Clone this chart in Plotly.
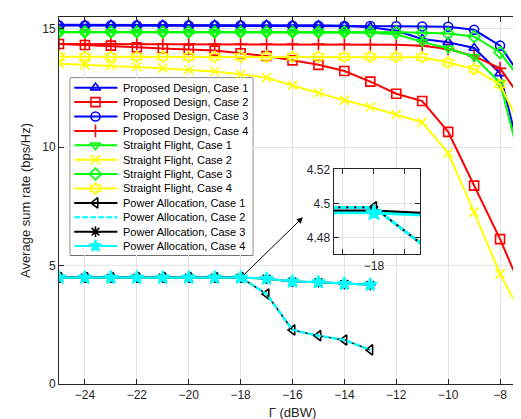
import plotly.graph_objects as go

# ---------------- data ----------------
gamma = [-25, -24, -23, -22, -21, -20, -19, -18, -17, -16, -15, -14, -13, -12, -11, -10, -9, -8, -7]
gamma_pa = [-25, -24, -23, -22, -21, -20, -19, -18, -17, -16, -15, -14, -13]

pd_case1 = [15.17, 15.17, 15.17, 15.17, 15.17, 15.17, 15.17, 15.17, 15.17, 15.16, 15.15, 15.13, 15.07, 14.92, 14.57, 14.43, 14.19, 13.12, 8.62]
pd_case2 = [14.36, 14.32, 14.29, 14.22, 14.17, 14.13, 14.08, 13.97, 13.85, 13.67, 13.48, 13.22, 12.77, 12.26, 11.95, 10.65, 8.38, 6.12, 3.57]
pd_case3 = [15.14, 15.14, 15.14, 15.14, 15.14, 15.14, 15.14, 15.14, 15.14, 15.13, 15.13, 15.12, 15.12, 15.11, 15.10, 15.09, 14.96, 14.29, 12.67]
pd_case4 = [14.36, 14.36, 14.36, 14.36, 14.36, 14.36, 14.36, 14.36, 14.36, 14.36, 14.36, 14.35, 14.34, 14.33, 14.29, 14.15, 13.85, 13.33, 11.77]

sf_case1 = [14.86, 14.86, 14.86, 14.86, 14.86, 14.86, 14.86, 14.86, 14.86, 14.86, 14.86, 14.86, 14.84, 14.77, 14.45, 14.17, 13.82, 12.72, 8.42]
sf_case2 = [13.53, 13.48, 13.45, 13.40, 13.34, 13.26, 13.20, 13.08, 12.94, 12.61, 12.29, 11.98, 11.70, 11.39, 11.05, 9.75, 7.26, 4.65, 2.58]
sf_case3 = [14.87, 14.87, 14.87, 14.87, 14.87, 14.87, 14.87, 14.87, 14.87, 14.87, 14.87, 14.87, 14.87, 14.86, 14.83, 14.80, 14.68, 14.00, 12.56]
sf_case4 = [13.82, 13.82, 13.82, 13.82, 13.82, 13.82, 13.82, 13.82, 13.82, 13.82, 13.82, 13.82, 13.82, 13.82, 13.80, 13.58, 13.30, 12.65, 10.40]

pa_case1 = [4.4976, 4.4976, 4.4976, 4.4976, 4.4976, 4.4976, 4.4976, 4.4976, 3.80, 2.28, 2.04, 1.86, 1.44]
pa_case2 = [4.4976, 4.4976, 4.4976, 4.4976, 4.4976, 4.4976, 4.4976, 4.4976, 3.80, 2.28, 2.04, 1.86, 1.44]
pa_case3 = [4.4957, 4.4957, 4.4957, 4.4957, 4.4957, 4.4957, 4.4957, 4.4957, 4.45, 4.33, 4.30, 4.23, 4.19]
pa_case4 = [4.4944, 4.4944, 4.4944, 4.4944, 4.4944, 4.4944, 4.4944, 4.4944, 4.45, 4.33, 4.30, 4.23, 4.19]

x_ticks = [-24, -22, -20, -18, -16, -14, -12, -10, -8]
y_ticks = [0, 5, 10, 15]
inset_x_ticks = [-18.02, -18, -17.98]
inset_x_labels = ["", "\u221218", ""]
inset_y_ticks = [4.48, 4.5, 4.52]
inset_y_labels = ["4.48", "4.5", "4.52"]

# ---------------- styling ----------------
FONT = "Liberation Sans, Arial, sans-serif"
AX = "#262626"
GRID = "#e3e3e3"
DASH = "6px,2px"

# name, x, y, colour, marker, dash, line width
series = [
    ("Proposed Design, Case 1", gamma, pd_case1, "#0000ff", "triangle-up-open", "solid", 2),
    ("Proposed Design, Case 2", gamma, pd_case2, "#ff0000", "square-open", "solid", 2),
    ("Proposed Design, Case 3", gamma, pd_case3, "#0000ff", "circle-open", "solid", 2),
    ("Proposed Design, Case 4", gamma, pd_case4, "#ff0000", "cross-thin-open", "solid", 2),
    ("Straight Flight, Case 1", gamma, sf_case1, "#00ff00", "triangle-down-open", "solid", 2),
    ("Straight Flight, Case 2", gamma, sf_case2, "#ffff00", "x-thin-open", "solid", 2),
    ("Straight Flight, Case 3", gamma, sf_case3, "#00ff00", "diamond-open", "solid", 2),
    ("Straight Flight, Case 4", gamma, sf_case4, "#ffff00", "hexagram-open", "solid", 2),
    ("Power Allocation, Case 1", gamma_pa, pa_case1, "#000000", "triangle-left-open", "solid", 1.6),
    ("Power Allocation, Case 2", gamma_pa, pa_case2, "#00ffff", None, DASH, 2.4),
    ("Power Allocation, Case 3", gamma_pa, pa_case3, "#000000", "asterisk-open", "solid", 2),
    ("Power Allocation, Case 4", gamma_pa, pa_case4, "#00ffff", "star", "solid", 2.2),
]

def mk(sym, col, size):
    return dict(symbol=sym, size=size, color=col, line=dict(color=col, width=1.6))

fig = go.Figure()

# main traces
for name, xs, ys, col, sym, dash, lw in series:
    fig.add_trace(go.Scatter(
        x=xs, y=ys, name=name, mode="lines+markers" if sym else "lines",
        line=dict(color=col, width=lw, dash=dash),
        marker=mk(sym, col, 10 if sym == "star" else 9) if sym else None,
        xaxis="x", yaxis="y", showlegend=False,
    ))

# inset traces (power allocation, zoomed around -18 dBW)
for name, xs, ys, col, sym, dash, lw in series[8:]:
    fig.add_trace(go.Scatter(
        x=xs, y=ys, name=name, mode="lines+markers" if sym else "lines",
        line=dict(color=col, width=lw + 0.6, dash=dash),
        marker=mk(sym, col, 12 if sym == "star" else 10) if sym else None,
        xaxis="x2", yaxis="y2", showlegend=False,
    ))

# hand-built legend (compact rows like the original), drawn on its own axes
LEG_X0, LEG_XM, LEG_X1, LEG_XT = 4, 25.3, 47.3, 50.7
annotations = []
for i, (name, xs, ys, col, sym, dash, lw) in enumerate(series):
    fig.add_trace(go.Scatter(
        x=[LEG_X0, LEG_X1], y=[i, i], mode="lines",
        line=dict(color=col, width=2, dash=dash),
        xaxis="x3", yaxis="y3", showlegend=False, hoverinfo="skip",
    ))
    if sym:
        fig.add_trace(go.Scatter(
            x=[LEG_XM], y=[i], mode="markers", marker=mk(sym, col, 9),
            xaxis="x3", yaxis="y3", showlegend=False, hoverinfo="skip",
        ))
    annotations.append(dict(
        x=LEG_XT, y=i, xref="x3", yref="y3", text=name, showarrow=False,
        xanchor="left", yanchor="middle",
        font=dict(family=FONT, size=11, color="#000000"),
    ))

annotations.append(dict(
    x=-15.6, y=7.04, ax=-17.91, ay=4.57,
    xref="x", yref="y", axref="x", ayref="y",
    showarrow=True, arrowhead=2, arrowsize=1.2, arrowwidth=1,
    arrowcolor="#000000", text="",
))

axis_common = dict(
    showline=True, linecolor=AX, linewidth=1, mirror="ticks",
    ticks="inside", ticklen=5, tickcolor=AX, tickwidth=1,
    showgrid=True, gridcolor=GRID, gridwidth=1, zeroline=False,
    tickfont=dict(family=FONT, size=12, color=AX),
)
hidden = dict(visible=False, showgrid=False, zeroline=False, fixedrange=True)

fig.update_layout(
    width=521, height=419,
    margin=dict(l=51, r=2, t=5, b=43),
    paper_bgcolor="white", plot_bgcolor="white",
    font=dict(family=FONT, size=12, color=AX),
    showlegend=False,
    xaxis=dict(
        domain=[0, 1], range=[-25, -7], tickvals=x_ticks,
        title=dict(text="\u0393 (dBW)", font=dict(family=FONT, size=13, color=AX), standoff=6),
        **axis_common,
    ),
    yaxis=dict(
        domain=[0, 1], range=[0, 15.5], tickvals=y_ticks,
        title=dict(text="Average sum rate (bps/Hz)", font=dict(family=FONT, size=13, color=AX), standoff=8),
        **axis_common,
    ),
    xaxis2=dict(
        domain=[0.588, 0.774], anchor="y2", range=[-18.026, -17.970],
        tickvals=inset_x_ticks, ticktext=inset_x_labels,
        **axis_common,
    ),
    yaxis2=dict(
        domain=[0.353, 0.585], anchor="x2", range=[4.47, 4.52],
        tickvals=inset_y_ticks, ticktext=inset_y_labels,
        **axis_common,
    ),
    xaxis3=dict(domain=[0.0241, 0.4149], anchor="y3", range=[0, 183], **hidden),
    yaxis3=dict(domain=[0.3507, 0.8336], anchor="x3", range=[11.64, -0.667], **hidden),
    shapes=[
        dict(type="rect", xref="x2 domain", yref="y2 domain",
             x0=0, x1=1, y0=0, y1=1, layer="below",
             fillcolor="white", line=dict(width=0)),
        dict(type="rect", xref="x3 domain", yref="y3 domain",
             x0=0, x1=1, y0=0, y1=1, layer="below",
             fillcolor="white", line=dict(color="#000000", width=1)),
    ],
    annotations=annotations,
)

fig.write_html("out.html")
